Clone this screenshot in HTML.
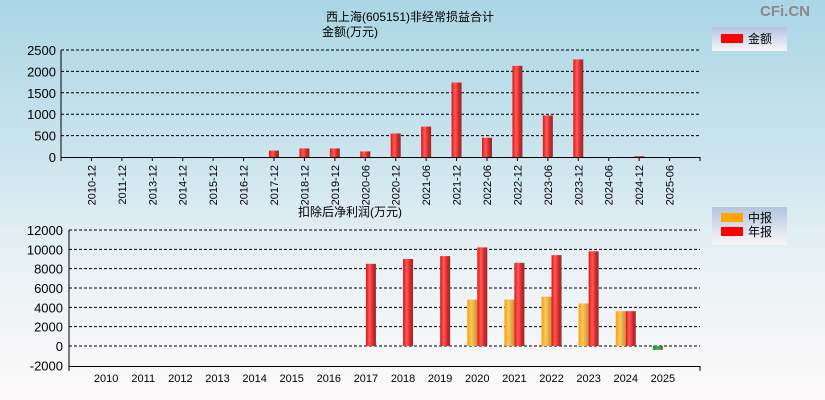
<!DOCTYPE html>
<html><head><meta charset="utf-8"><style>
html,body{margin:0;padding:0;}
body{width:825px;height:400px;overflow:hidden;background:linear-gradient(#abd6e5 0%,#cde5ee 40%,#e9f1f5 65%,#fdf9f9 100%);font-family:"Liberation Sans","Noto Sans CJK SC",sans-serif;}
svg{position:absolute;left:0;top:0;}
text{font-family:"Liberation Sans","Noto Sans CJK SC",sans-serif;}
</style></head><body>
<svg width="825" height="400">
<defs>
<linearGradient id="gr" x1="0" x2="1"><stop offset="0" stop-color="#e51010"/><stop offset="0.35" stop-color="#ff5a5a"/><stop offset="0.75" stop-color="#d42020"/><stop offset="1" stop-color="#7a3a3a"/></linearGradient>
<linearGradient id="go" x1="0" x2="1"><stop offset="0" stop-color="#f5a000"/><stop offset="0.4" stop-color="#ffc860"/><stop offset="1" stop-color="#c89030"/></linearGradient>
<linearGradient id="gg" x1="0" x2="1"><stop offset="0" stop-color="#1a8a2a"/><stop offset="0.5" stop-color="#40b050"/><stop offset="1" stop-color="#3a6a3a"/></linearGradient>
<linearGradient id="lg" x1="0" y1="0" x2="0" y2="1"><stop offset="0" stop-color="#b4c4e0"/><stop offset="1" stop-color="#f8f6f8"/></linearGradient>
</defs>
<text x="810" y="16" text-anchor="end" font-size="15" font-weight="bold" fill="#8a8a8a">CFi.CN</text>
<text x="410" y="21" text-anchor="middle" font-size="12" fill="#000">西上海(605151)非经常损益合计</text>
<text x="350" y="36" text-anchor="middle" font-size="12" fill="#000">金额(万元)</text>
<text x="350" y="216" text-anchor="middle" font-size="12" fill="#000">扣除后净利润(万元)</text>
<g>
<rect x="712" y="27" width="75" height="24" fill="url(#lg)"/>
<rect x="721" y="34" width="22" height="9" fill="#ff0000"/>
<text x="748" y="43" font-size="12">金额</text>
</g>
<g>
<rect x="712" y="207" width="75" height="38" fill="url(#lg)"/>
<rect x="721" y="213" width="22" height="9" fill="#ffa500"/>
<text x="748" y="222" font-size="12">中报</text>
<rect x="721" y="227" width="22" height="9" fill="#ff0000"/>
<text x="748" y="236" font-size="12">年报</text>
</g>
<g id="top"></g>
<g id="bot"></g>
</svg>
<script>
const topCats=["2010-12","2011-12","2013-12","2014-12","2015-12","2016-12","2017-12","2018-12","2019-12","2020-06","2020-12","2021-06","2021-12","2022-06","2022-12","2023-06","2023-12","2024-06","2024-12","2025-06"];
const topVals=[0,0,0,0,0,0,150,200,200,130,550,710,1740,450,2130,970,2280,0,20,0];
const topTicks=[0,500,1000,1500,2000,2500];
const botCats=["2010","2011","2012","2013","2014","2015","2016","2017","2018","2019","2020","2021","2022","2023","2024","2025"];
const botInterim=[null,null,null,null,null,null,null,null,null,null,4800,4800,5100,4400,3600,-400];
const botAnnual=[null,null,null,null,null,null,null,8500,9000,9300,10200,8600,9400,9800,3600,null];
const botTicks=[-2000,0,2000,4000,6000,8000,10000,12000];
const NS="http://www.w3.org/2000/svg";
function mk(p,t,a){const e=document.createElementNS(NS,t);for(const k in a)e.setAttribute(k,a[k]);p.appendChild(e);return e;}
// top chart
const T=document.getElementById('top');
const tx0=61,tx1=700,ty0=157,tyTop=50;
const tStep=(tx1-tx0)/(topCats.length+1);
const tX=i=>tx0+tStep*(i+1);
const tY=v=>ty0-(v/2500)*(ty0-tyTop);
topTicks.forEach(v=>{
 if(v>0){const g=mk(T,'line',{x1:tx0,x2:tx1,y1:tY(v),y2:tY(v),stroke:'#000','stroke-dasharray':'3,2','stroke-width':1});
 
 }
 const t=mk(T,'text',{x:tx0-5,y:tY(v)+5,'text-anchor':'end','font-size':13,fill:'#000'});t.textContent=v;
 
 
});
mk(T,'line',{x1:tx0,x2:tx0,y1:tyTop,y2:ty0+4,stroke:'#000'});
mk(T,'line',{x1:tx0,x2:tx1,y1:ty0+0.5,y2:ty0+0.5,stroke:'#000'});
mk(T,'line',{x1:tx1,x2:tx1,y1:ty0,y2:ty0+4,stroke:'#000'});
topCats.forEach((c,i)=>{
 const x=tX(i);
 mk(T,'line',{x1:x,x2:x,y1:ty0,y2:ty0+4,stroke:'#000'});
 const t=mk(T,'text',{x:0,y:0,'font-size':11,fill:'#000','text-anchor':'end',transform:`translate(${x+4},${ty0+8}) rotate(-90)`});t.textContent=c;
 
 
 const v=topVals[i];
 if(v>0){const r=mk(T,'rect',{x:x-5,y:tY(v),width:10,height:ty0-tY(v),fill:'url(#gr)'});
 
 }
});
// bottom chart
const B=document.getElementById('bot');
const bx0=69,bx1=700,by0=346,byTop=230,byBot=366;
const bStep=(bx1-bx0)/(botCats.length+1);
const bX=i=>bx0+bStep*(i+1);
const bY=v=>by0-(v/12000)*(by0-byTop);
botTicks.forEach(v=>{
 if(v>-2000){const g=mk(B,'line',{x1:bx0,x2:bx1,y1:bY(v),y2:bY(v),stroke:'#000','stroke-dasharray':'3,2'});
 
 }
 const t=mk(B,'text',{x:bx0-6,y:bY(v)+5,'text-anchor':'end','font-size':13,fill:'#000'});t.textContent=v;
 
 
});
mk(B,'line',{x1:bx0,x2:bx0,y1:byTop,y2:byBot+5,stroke:'#000'});
mk(B,'line',{x1:bx0,x2:bx1,y1:byBot+0.5,y2:byBot+0.5,stroke:'#000'});
mk(B,'line',{x1:bx1,x2:bx1,y1:byBot,y2:byBot+5,stroke:'#000'});
botCats.forEach((c,i)=>{
 const x=bX(i);
 const t=mk(B,'text',{x:x,y:382,'text-anchor':'middle','font-size':11,fill:'#000'});t.textContent=c;
 
 
 const m=botInterim[i];
 if(m!==null){const y=Math.min(bY(m),by0),h=Math.abs(bY(m)-by0);
  const r=mk(B,'rect',{x:x-10,y:y,width:10,height:h,fill:m<0?'url(#gg)':'url(#go)'});
  
  }
 const a=botAnnual[i];
 if(a!==null){const y=Math.min(bY(a),by0),h=Math.abs(bY(a)-by0);
  const r=mk(B,'rect',{x:x,y:y,width:10,height:h,fill:a<0?'url(#gg)':'url(#gr)'});
  
  }
});
</script>
</body></html>
